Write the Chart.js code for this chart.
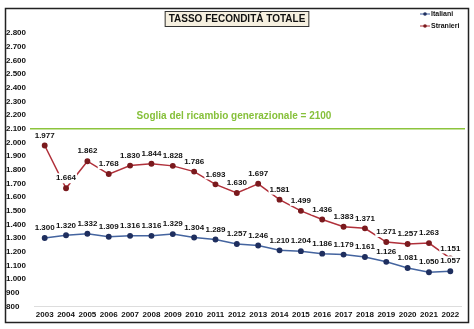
<!DOCTYPE html>
<html>
<head>
<meta charset="utf-8">
<script src="https://cdn.jsdelivr.net/npm/chart.js@4"></script>
<style>
  body { margin: 0; background: #fff; }
  #wrap { position: relative; width: 474px; height: 329px; }
</style>
</head>
<body>
<div id="wrap"><canvas id="myChart" width="474" height="329"></canvas></div>
<script>
const anni = ['2003','2004','2005','2006','2007','2008','2009','2010','2011','2012','2013','2014','2015','2016','2017','2018','2019','2020','2021','2022'];
const italiani = [1300,1320,1332,1309,1316,1316,1329,1304,1289,1257,1246,1210,1204,1186,1179,1161,1126,1081,1050,1057];
const stranieri = [1977,1664,1862,1768,1830,1844,1828,1786,1693,1630,1697,1581,1499,1436,1383,1371,1271,1257,1263,1151];
const soglia = 2100;
const titolo = 'TASSO FECONDITÁ TOTALE';
const testoSoglia = 'Soglia del ricambio generazionale = 2100';

const fmt = v => {
    let s = String(v);
    return s.length > 3 ? s.slice(0, s.length - 3) + '.' + s.slice(-3) : s;
};

const FONT = 'Liberation Sans, Arial, sans-serif';

let decor = {
    id: 'decor',
    beforeDatasetsDraw(chart) {
        let c = chart.ctx;
        let y = chart.scales.y.getPixelForValue(soglia);
        c.save();
        c.strokeStyle = '#8cc43c';
        c.lineWidth = 1.5;
        c.beginPath();
        c.moveTo(30, y);
        c.lineTo(465, y);
        c.stroke();
        c.fillStyle = '#86c03a';
        c.font = 'bold 10px ' + FONT;
        c.textAlign = 'center';
        c.textBaseline = 'bottom';
        c.fillText(testoSoglia, 234, y - 7);
        c.restore();
    },
    afterDatasetsDraw(chart) {
        let c = chart.ctx;
        c.save();
        c.font = 'bold 8px ' + FONT;
        c.textAlign = 'center';
        c.textBaseline = 'middle';
        chart.data.datasets.forEach((ds, i) => {
            chart.getDatasetMeta(i).data.forEach((pt, j) => {
                let txt = fmt(ds.data[j]);
                let w = c.measureText(txt).width;
                let ly = pt.y - 10;
                c.fillStyle = '#fff';
                c.fillRect(pt.x - w / 2 - 1, ly - 5, w + 2, 10);
                c.fillStyle = '#111';
                c.fillText(txt, pt.x, ly);
            });
        });
        c.restore();
    },
    afterDraw(chart) {
        let c = chart.ctx;
        c.save();
        // cornice
        c.strokeStyle = '#222';
        c.lineWidth = 1.5;
        c.strokeRect(5.5, 8.5, 463, 314);
        // titolo
        c.font = 'bold 10px ' + FONT;
        let tw = c.measureText(titolo).width;
        c.fillStyle = '#f6f0e0';
        c.fillRect(237 - tw / 2 - 4, 11, tw + 8, 16);
        c.strokeStyle = '#333';
        c.lineWidth = 1;
        c.strokeRect(237 - tw / 2 - 3.5, 11.5, tw + 7, 15);
        c.fillStyle = '#111';
        c.textAlign = 'center';
        c.textBaseline = 'middle';
        c.fillText(titolo, 237, 19.5);
        // legenda
        let voci = [['Italiani', '#3f5f9f', '#1f2f5f'], ['Stranieri', '#b0303a', '#7a1a1e']];
        c.font = 'bold 7px ' + FONT;
        c.textAlign = 'left';
        voci.forEach((v, i) => {
            let ly = 14 + i * 12;
            c.strokeStyle = v[1];
            c.lineWidth = 1;
            c.beginPath();
            c.moveTo(420, ly);
            c.lineTo(430, ly);
            c.stroke();
            c.fillStyle = v[2];
            c.beginPath();
            c.arc(425, ly, 1.8, 0, Math.PI * 2);
            c.fill();
            c.fillStyle = '#111';
            c.fillText(v[0], 431, ly);
        });
        c.restore();
    }
};

new Chart(document.getElementById('myChart'), {
    type: 'line',
    data: {
        labels: anni,
        datasets: [{
            label: 'Italiani',
            data: italiani,
            borderColor: '#44649f',
            backgroundColor: '#1f2f5f',
            pointBackgroundColor: '#1f2f5f',
            pointBorderColor: '#1f2f5f',
            borderWidth: 1.5,
            pointRadius: 2.2,
            tension: 0
        }, {
            label: 'Stranieri',
            data: stranieri,
            borderColor: '#b0303a',
            backgroundColor: '#7a1a1e',
            pointBackgroundColor: '#7a1a1e',
            pointBorderColor: '#7a1a1e',
            borderWidth: 1.5,
            pointRadius: 2.2,
            tension: 0
        }]
    },
    options: {
        responsive: false,
        animation: false,
        layout: { padding: { left: 6, right: 13, top: 33, bottom: 5 } },
        plugins: {
            legend: { display: false },
            tooltip: { enabled: false }
        },
        scales: {
            x: {
                offset: true,
                grid: { display: false, drawTicks: false },
                border: { color: '#dddddd' },
                ticks: { color: '#111', font: { family: FONT, size: 8, weight: 'bold' }, padding: 4, maxRotation: 0, autoSkip: false }
            },
            y: {
                min: 800,
                max: 2800,
                grid: { display: false, drawTicks: false },
                border: { display: false },
                ticks: {
                    stepSize: 100,
                    color: '#111',
                    font: { family: FONT, size: 8, weight: 'bold' },
                    padding: 4,
                    crossAlign: 'far',
                    callback: v => fmt(v)
                }
            }
        }
    },
    plugins: [decor]
});
</script>
</body>
</html>
